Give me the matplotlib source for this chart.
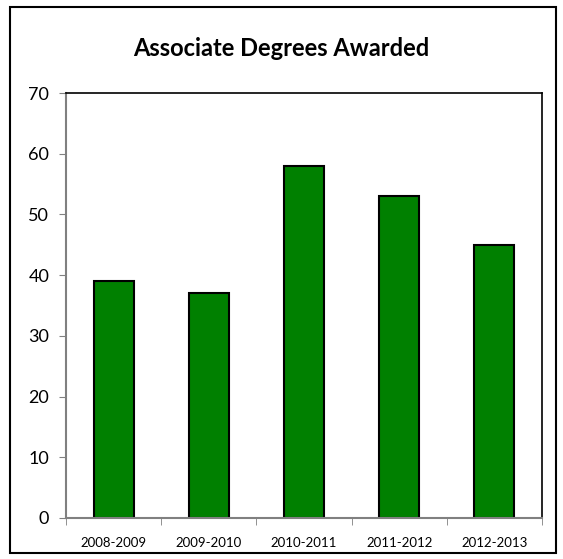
import matplotlib
matplotlib.use("Agg")
import matplotlib.pyplot as plt
from matplotlib.patches import Rectangle

years = ['2008-2009', '2009-2010', '2010-2011', '2011-2012', '2012-2013']
degrees = [39, 37, 58, 53, 45]

plt.rcParams['font.family'] = ['Lato', 'DejaVu Sans']

fig = plt.figure(figsize=(5.63, 5.59), dpi=100)
ax = fig.add_axes([66/563, 1 - 518/559, 476/563, 425/559])

x = range(len(years))
ax.bar(x, degrees, width=0.42, color='#008000', edgecolor='black', linewidth=1.5)

ax.set_xlim(-0.5, len(years) - 0.5)
ax.set_ylim(0, 70)
ax.set_yticks(range(0, 71, 10))
ax.set_xticks(list(x))
ax.set_xticklabels(years, fontsize=9.5)
ax.set_xticks([i - 0.5 for i in range(len(years) + 1)], minor=True)
ax.tick_params(axis='x', which='major', length=0, pad=14)
ax.tick_params(axis='x', which='minor', length=5, color='#808080', direction='out')
ax.tick_params(axis='y', length=5, color='#808080', labelsize=13, pad=7)

for side in ['left', 'bottom']:
    ax.spines[side].set_color('#808080')
    ax.spines[side].set_linewidth(1.5)
for side in ['top', 'right']:
    ax.spines[side].set_color('black')
    ax.spines[side].set_linewidth(1.2)

fig.text(0.5, 1 - 48/559, 'Associate Degrees Awarded', ha='center', va='center',
         fontsize=17, fontweight='bold')

# outer chart border
fig.patches.append(Rectangle((10/563, 1 - 553/559), 546/563, 546/559,
                             transform=fig.transFigure, fill=False,
                             edgecolor='black', linewidth=1.5))

fig.savefig('out.png', dpi=100)
